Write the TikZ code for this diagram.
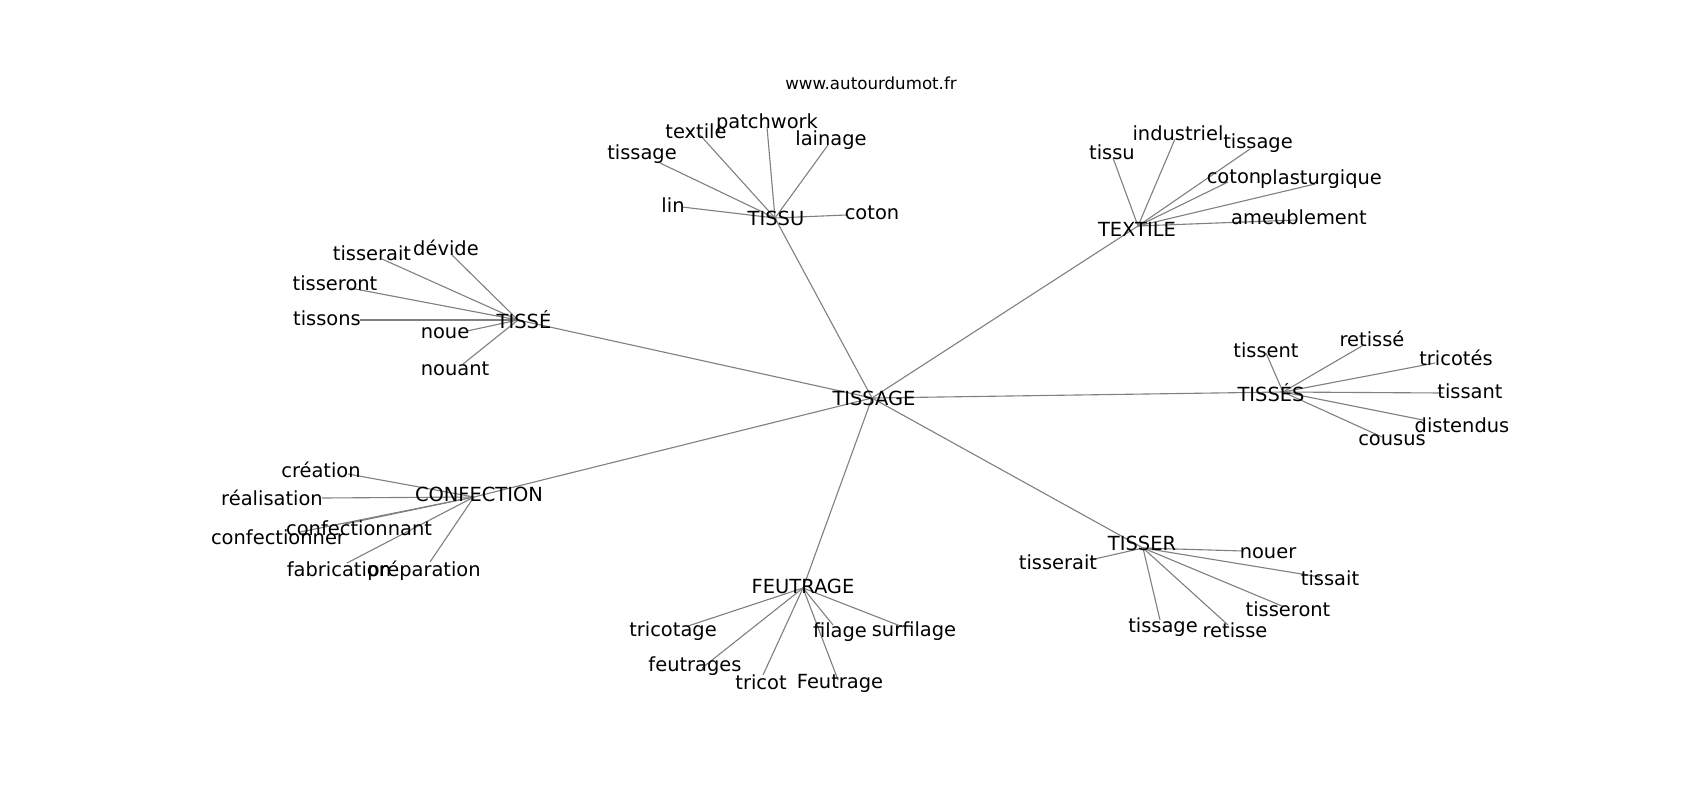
\documentclass[tikz,border=0pt]{standalone}
\usepackage{fontspec}
\setmainfont{DejaVu Sans}
\begin{document}
\begin{tikzpicture}[x=0.72pt,y=-0.72pt,
  lbl/.style={inner sep=0pt,font=\fontsize{14}{16}\selectfont,text=black},
  ttl/.style={inner sep=0pt,font=\fontsize{12}{14}\selectfont,text=black},
  edge/.style={draw=black!50,line width=0.8pt}]
\useasboundingbox (0,0) rectangle (1700,800);
% hubs
\coordinate (hTISSAGE) at (872,398);
\coordinate (hTISSU) at (775,218);
\coordinate (hTEXTILE) at (1138,226);
\coordinate (hTISSE) at (518,320);
\coordinate (hTISSES) at (1283,392);
\coordinate (hCONF) at (474,497);
\coordinate (hFEUT) at (803,588);
\coordinate (hTISSER) at (1143,548);
% leaf end points
\coordinate (a1) at (660,163);
\coordinate (a2) at (700,135);
\coordinate (a3) at (767,127);
\coordinate (a4) at (828,145);
\coordinate (a5) at (682,207);
\coordinate (a6) at (846,215);
\coordinate (b1) at (1113,158);
\coordinate (b2) at (1175,139);
\coordinate (b3) at (1250,149);
\coordinate (b4) at (1228,182);
\coordinate (b5) at (1315,184);
\coordinate (b6) at (1296,220);
\coordinate (c1) at (382,259);
\coordinate (c2) at (452,255);
\coordinate (c3) at (350,288);
\coordinate (c4) at (360,320);
\coordinate (c5) at (467,331);
\coordinate (c6) at (463,364);
\coordinate (d1) at (1266,353);
\coordinate (d2) at (1362,346);
\coordinate (d3) at (1435,363);
\coordinate (d4) at (1443,393);
\coordinate (d5) at (1423,420);
\coordinate (d6) at (1382,437);
\coordinate (e1) at (348,474);
\coordinate (e2) at (322,498);
\coordinate (e3) at (300,532);
\coordinate (e4) at (345,524);
\coordinate (e5) at (347,563);
\coordinate (e6) at (430,562);
\coordinate (f1) at (688,626);
\coordinate (f2) at (702,668);
\coordinate (f3) at (763,675);
\coordinate (f4) at (838,680);
\coordinate (f5) at (833,625);
\coordinate (f6) at (903,627);
\coordinate (g1) at (1090,560);
\coordinate (g2) at (1243,551);
\coordinate (g3) at (1320,577);
\coordinate (g4) at (1282,606);
\coordinate (g5) at (1228,625);
\coordinate (g6) at (1160,620);
% edges
\foreach \h in {hTISSU,hTEXTILE,hTISSE,hTISSES,hCONF,hFEUT,hTISSER}
  \draw[edge] (hTISSAGE) -- (\h);
\foreach \i in {1,...,6}{
  \draw[edge] (hTISSU) -- (a\i);
  \draw[edge] (hTEXTILE) -- (b\i);
  \draw[edge] (hTISSE) -- (c\i);
  \draw[edge] (hTISSES) -- (d\i);
  \draw[edge] (hCONF) -- (e\i);
  \draw[edge] (hFEUT) -- (f\i);
  \draw[edge] (hTISSER) -- (g\i);
}
% labels
\node[ttl] (title) at (871,83) {www.autourdumot.fr};
\node[lbl] (lTISSAGE) at (874,398) {TISSAGE};
\node[lbl] (lTISSU) at (776,218) {TISSU};
\node[lbl] (lTEXTILE) at (1137,229) {TEXTILE};
\node[lbl] (lTISSE) at (524,320) {TISSÉ};
\node[lbl] (lTISSES) at (1271,393) {TISSÉS};
\node[lbl] (lCONF) at (479,494) {CONFECTION};
\node[lbl] (lFEUT) at (803,586) {FEUTRAGE};
\node[lbl] (lTISSER) at (1142,543) {TISSER};
\node[lbl] (la1) at (642,154) {tissage};
\node[lbl] (la2) at (696,131) {textile};
\node[lbl] (la3) at (767,123) {patchwork};
\node[lbl] (la4) at (831,140) {lainage};
\node[lbl] (la5) at (673,205) {lin};
\node[lbl] (la6) at (872,213) {coton};
\node[lbl] (lb1) at (1112,152) {tissu};
\node[lbl] (lb2) at (1178,133) {industriel};
\node[lbl] (lb3) at (1258,143) {tissage};
\node[lbl] (lb4) at (1234,177) {coton};
\node[lbl] (lb5) at (1321,179) {plasturgique};
\node[lbl] (lb6) at (1299,217) {ameublement};
\node[lbl] (lc1) at (372,253) {tisserait};
\node[lbl] (lc2) at (446,248) {dévide};
\node[lbl] (lc3) at (335,283) {tisseront};
\node[lbl] (lc4) at (327,318) {tissons};
\node[lbl] (lc5) at (445,333) {noue};
\node[lbl] (lc6) at (455,369) {nouant};
\node[lbl] (ld1) at (1266,350) {tissent};
\node[lbl] (ld2) at (1372,339) {retissé};
\node[lbl] (ld3) at (1456,358) {tricotés};
\node[lbl] (ld4) at (1470,391) {tissant};
\node[lbl] (ld5) at (1462,425) {distendus};
\node[lbl] (ld6) at (1392,440) {cousus};
\node[lbl] (le1) at (321,470) {création};
\node[lbl] (le2) at (272,498) {réalisation};
\node[lbl] (le3) at (278,537) {confectionner};
\node[lbl] (le4) at (359,528) {confectionnant};
\node[lbl] (le5) at (339,569) {fabrication};
\node[lbl] (le6) at (424,571) {préparation};
\node[lbl] (lf1) at (673,631) {tricotage};
\node[lbl] (lf2) at (695,666) {feutrages};
\node[lbl] (lf3) at (761,682) {tricot};
\node[lbl] (lf4) at (840,683) {Feutrage};
\node[lbl] (lf5) at (840,632) {filage};
\node[lbl] (lf6) at (914,631) {surfilage};
\node[lbl] (lg1) at (1058,562) {tisserait};
\node[lbl] (lg2) at (1268,553) {nouer};
\node[lbl] (lg3) at (1330,578) {tissait};
\node[lbl] (lg4) at (1288,609) {tisseront};
\node[lbl] (lg5) at (1235,630) {retisse};
\node[lbl] (lg6) at (1163,627) {tissage};
\end{tikzpicture}
\end{document}
